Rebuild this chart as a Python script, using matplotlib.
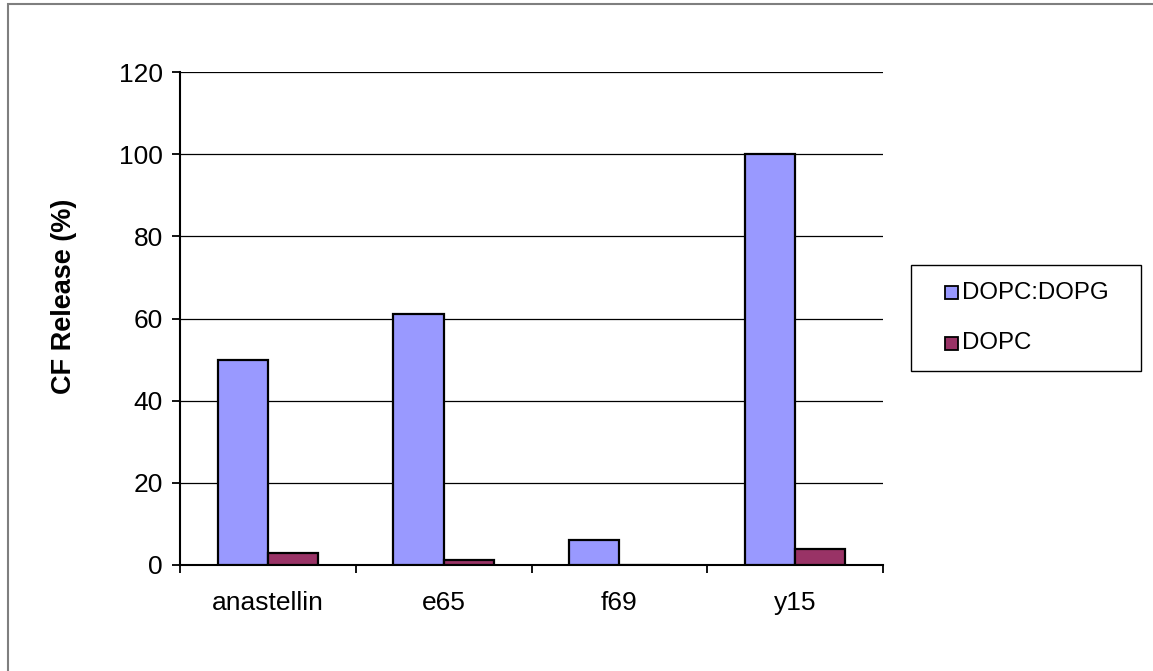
import numpy as np
import matplotlib.pyplot as plt
from matplotlib.patches import Rectangle

plt.rcParams['font.family'] = ['Liberation Sans', 'DejaVu Sans']

# Data
peptides = ["anastellin", "e65", "f69", "y15"]
dopc_dopg = [50, 61, 6, 100]
dopc = [3, 1.2, 0, 4]
series_names = ["DOPC:DOPG", "DOPC"]
series_colors = ["#9999FF", "#993366"]

W, H = 1153, 671
fig = plt.figure(figsize=(W / 100, H / 100), dpi=100)
ax = fig.add_axes([180 / W, 1 - 565 / H, 703 / W, 493 / H])

x = np.arange(len(peptides))
w = 1 / 3.5
ax.bar(x - w / 2, dopc_dopg, w, color=series_colors[0], edgecolor="black", linewidth=1.6, zorder=3)
ax.bar(x + w / 2, dopc, w, color=series_colors[1], edgecolor="black", linewidth=1.6, zorder=3)

ax.set_xlim(-0.5, len(peptides) - 0.5)
ax.set_ylim(0, 120)
ax.set_yticks(np.arange(0, 121, 20))
ax.yaxis.grid(True, color="black", linewidth=0.9)
ax.set_axisbelow(True)

# category labels at centres, tick marks on the boundaries
ax.set_xticks(x)
ax.set_xticklabels(peptides)
ax.tick_params(axis="x", which="major", length=0, pad=19, labelsize=19)
ax.set_xticks(np.arange(len(peptides) + 1) - 0.5, minor=True)
ax.tick_params(axis="x", which="minor", length=5.5, width=1.3, direction="out")
ax.tick_params(axis="y", length=5.5, width=1.3, pad=7, labelsize=19)

for side in ["top", "right"]:
    ax.spines[side].set_visible(False)
for side in ["left", "bottom"]:
    ax.spines[side].set_linewidth(1.5)

ax.set_ylabel("CF Release (%)", fontsize=19.5, fontweight="bold")
ax.yaxis.set_label_coords((77 - 180) / 703, (565 - 296) / 493)

# legend box drawn in pixel coordinates
px = lambda xp, yp: (xp / W, 1 - yp / H)
fig.patches.append(Rectangle(px(911, 371), 230 / W, 106 / H, transform=fig.transFigure,
                             fill=False, edgecolor="black", linewidth=1.0))
for i, (name, col) in enumerate(zip(series_names, series_colors)):
    yc = 293 + 50 * i
    fig.patches.append(Rectangle(px(945, yc + 6.5), 13 / W, 13 / H, transform=fig.transFigure,
                                 facecolor=col, edgecolor="black", linewidth=1.3))
    fig.text(*px(962, yc), name, fontsize=17.3, va="center", ha="left")

# outer chart border
fig.patches.append(Rectangle((8 / W, -0.1), 1.2, 1.1 - 4 / H, transform=fig.transFigure,
                             fill=False, edgecolor="#7f7f7f", linewidth=1.5))

fig.savefig("out.png", dpi=100)
